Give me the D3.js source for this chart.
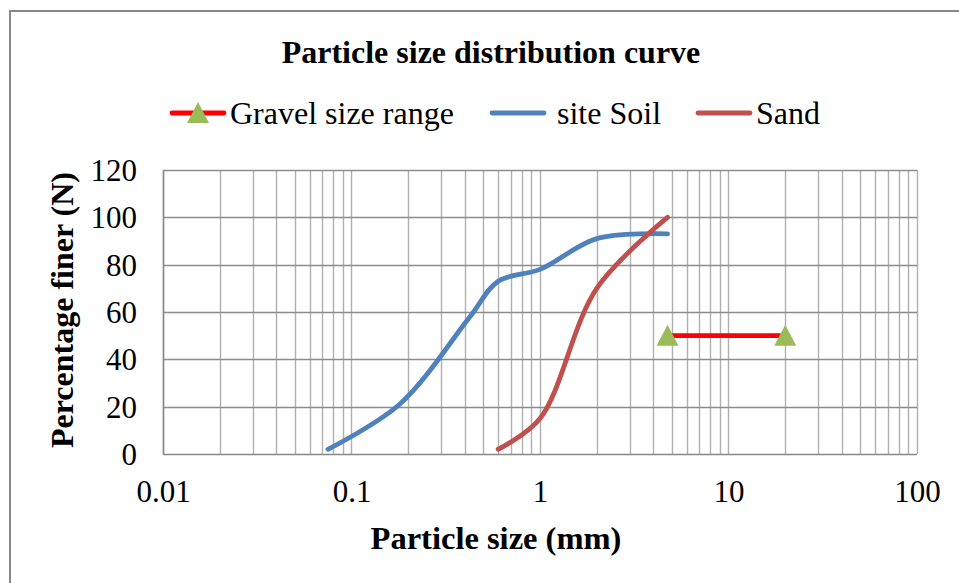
<!DOCTYPE html>
<html>
<head>
<meta charset="utf-8">
<script src="https://cdn.jsdelivr.net/npm/d3@7"></script>
<style>
  body { margin: 0; background: #fff; }
  text { font-family: "Liberation Serif", "Times New Roman", serif; fill: #000; }
</style>
</head>
<body>
<div id="chart"></div>
<script>
// Data
const soilSize = [0.075, 0.18, 0.425, 0.6, 1.0, 2.0, 4.75];
const soilFiner = [2, 21, 58, 73, 78, 91, 93];

const sandSize = [0.6, 1.0, 2.0, 4.75];
const sandFiner = [2, 15, 70, 100];

const gravelSize = [4.75, 20];
const gravelFiner = [50, 50];

const xTicks = [0.01, 0.1, 1, 10, 100];
const yTicks = [0, 20, 40, 60, 80, 100, 120];

const width = 959;
const height = 583;
const plot = { left: 163, right: 917, top: 170, bottom: 454 };

const svg = d3.select('#chart').append('svg')
  .attr('width', width)
  .attr('height', height);

// outer chart border (only top and left visible in the crop)
svg.append('path')
  .attr('d', `M10,${height} L10,11 L${width},11`)
  .attr('fill', 'none')
  .attr('stroke', '#888')
  .attr('stroke-width', 2);

const x = d3.scaleLog().domain([0.01, 100]).range([plot.left, plot.right]);
const y = d3.scaleLinear().domain([0, 120]).range([plot.bottom, plot.top]);

// vertical log grid (1..9 in every decade)
const minor = [];
for (let d = -2; d < 2; d++) {
  for (let m = 1; m < 10; m++) minor.push(m * Math.pow(10, d));
}
minor.push(100);

svg.append('g')
  .selectAll('line')
  .data(minor)
  .enter().append('line')
  .attr('x1', d => Math.round(x(d)) + 0.5)
  .attr('x2', d => Math.round(x(d)) + 0.5)
  .attr('y1', plot.top)
  .attr('y2', plot.bottom)
  .attr('stroke', '#b0b0b0')
  .attr('stroke-width', 1.4);

// horizontal grid
svg.append('g')
  .selectAll('line')
  .data(yTicks.slice(1))
  .enter().append('line')
  .attr('x1', plot.left)
  .attr('x2', plot.right)
  .attr('y1', d => Math.round(y(d)) + 0.5)
  .attr('y2', d => Math.round(y(d)) + 0.5)
  .attr('stroke', '#8c8c8c')
  .attr('stroke-width', 1.4);

// axes lines
svg.append('path')
  .attr('d', `M${plot.left + 0.5},${plot.top} V${plot.bottom + 0.5} H${plot.right}`)
  .attr('fill', 'none')
  .attr('stroke', '#888')
  .attr('stroke-width', 1.5);

// tick labels
const yAxis = d3.axisLeft(y).tickValues(yTicks).tickSize(0).tickPadding(26);
svg.append('g')
  .attr('transform', `translate(${plot.left},0)`)
  .call(yAxis)
  .call(g => g.select('.domain').remove())
  .call(g => g.selectAll('text')
    .attr('font-size', 31)
    .attr('font-family', '"Liberation Serif", serif')
    .attr('dy', '0.34em'));

const xAxis = d3.axisBottom(x).tickValues(xTicks).tickFormat(d => String(d)).tickSize(0).tickPadding(26);
svg.append('g')
  .attr('transform', `translate(0,${plot.bottom})`)
  .call(xAxis)
  .call(g => g.select('.domain').remove())
  .call(g => g.selectAll('text')
    .attr('font-size', 31)
    .attr('font-family', '"Liberation Serif", serif'));

// titles
svg.append('text')
  .attr('x', 491)
  .attr('y', 63)
  .attr('text-anchor', 'middle')
  .attr('font-weight', 'bold')
  .attr('font-size', 32)
  .text('Particle size distribution curve');

svg.append('text')
  .attr('x', 496)
  .attr('y', 549)
  .attr('text-anchor', 'middle')
  .attr('font-weight', 'bold')
  .attr('font-size', 32.5)
  .text('Particle size (mm)');

svg.append('text')
  .attr('transform', 'translate(73,310) rotate(-90)')
  .attr('text-anchor', 'middle')
  .attr('font-weight', 'bold')
  .attr('font-size', 32)
  .text('Percentage finer (N)');

// series
const line = d3.line()
  .x(d => x(d[0]))
  .y(d => y(d[1]))
  .curve(d3.curveCatmullRom.alpha(0.5));

const soil = soilSize.map((s, i) => [s, soilFiner[i]]);
const sand = sandSize.map((s, i) => [s, sandFiner[i]]);
const gravel = gravelSize.map((s, i) => [s, gravelFiner[i]]);

svg.append('path')
  .datum(soil)
  .attr('d', line)
  .attr('fill', 'none')
  .attr('stroke', '#4F81BD')
  .attr('stroke-width', 4.8)
  .attr('stroke-linecap', 'round');

svg.append('path')
  .datum(sand)
  .attr('d', line)
  .attr('fill', 'none')
  .attr('stroke', '#C0504D')
  .attr('stroke-width', 4.8)
  .attr('stroke-linecap', 'round');

svg.append('path')
  .datum(gravel)
  .attr('d', d3.line().x(d => x(d[0])).y(d => y(d[1])))
  .attr('fill', 'none')
  .attr('stroke', '#FF0000')
  .attr('stroke-width', 4.8);

const tri = 'M0,-11 L11,10 L-11,10 Z';
svg.append('g')
  .selectAll('path')
  .data(gravel)
  .enter().append('path')
  .attr('transform', d => `translate(${x(d[0])},${y(d[1])})`)
  .attr('d', tri)
  .attr('fill', '#9BBB59');

// legend
const legendItems = [
  { name: 'Gravel size range', color: '#FF0000', marker: true, x0: 170, tx: 230 },
  { name: 'site Soil', color: '#4F81BD', marker: false, x0: 490, tx: 557 },
  { name: 'Sand', color: '#C0504D', marker: false, x0: 696, tx: 756 }
];
const legendY = 113;
const legend = svg.append('g');
legendItems.forEach(item => {
  legend.append('line')
    .attr('x1', item.x0 + 2)
    .attr('x2', item.x0 + 54)
    .attr('y1', legendY)
    .attr('y2', legendY)
    .attr('stroke', item.color)
    .attr('stroke-width', 4.8)
    .attr('stroke-linecap', 'round');
  if (item.marker) {
    legend.append('path')
      .attr('transform', `translate(${item.x0 + 28},${legendY})`)
      .attr('d', tri)
      .attr('fill', '#9BBB59');
  }
  legend.append('text')
    .attr('x', item.tx)
    .attr('y', legendY + 11)
    .attr('font-size', 32)
    .text(item.name);
});
</script>
</body>
</html>
